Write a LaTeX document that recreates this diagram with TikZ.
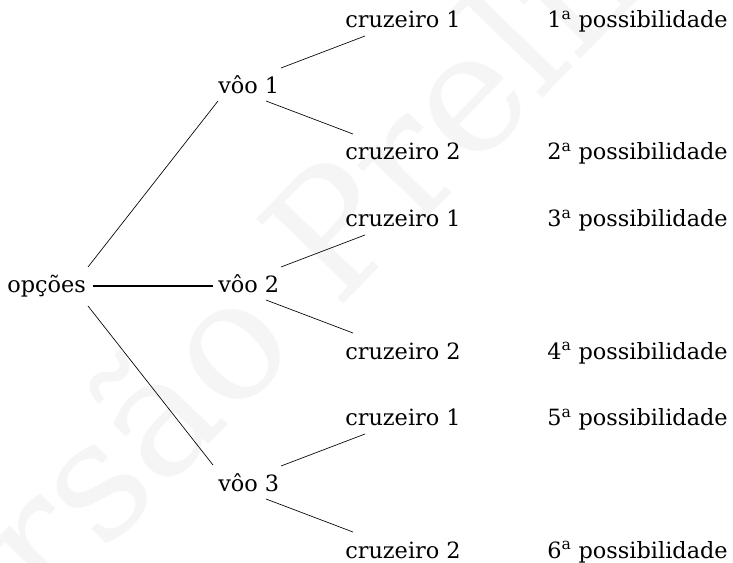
\documentclass[tikz,border=0pt]{standalone}
\usepackage{fontspec}
\setmainfont{DejaVu Serif}
\usetikzlibrary{calc}
\tikzset{
  lbl/.style={anchor=base west, inner sep=0pt, font=\fontsize{16.8}{20}\selectfont},
  br/.style={line width=0.5pt},
  trunk/.style={line width=0.9pt},
  wmark/.style={anchor=base west, inner sep=0pt, rotate=46, text=black!4, font=\fontsize{125}{150}\selectfont}
}
\begin{document}
\begin{tikzpicture}[x=0.75pt, y=-0.75pt]
\useasboundingbox (0,0) rectangle (733,563);
\begin{scope}
\clip (0,0) rectangle (733,563);
\node[wmark] (wm) at (-94,758) {Versão Preliminar};
\end{scope}
% nodes
\node[lbl] (opc) at (7,293) {opções};
\node[lbl] (v1) at (218,94) {vôo 1};
\node[lbl] (v2) at (218,293) {vôo 2};
\node[lbl] (v3) at (218,492) {vôo 3};
\node[lbl] (c11) at (345,28) {cruzeiro 1};
\node[lbl] (c12) at (345,160) {cruzeiro 2};
\node[lbl] (c21) at (345,227) {cruzeiro 1};
\node[lbl] (c22) at (345,359) {cruzeiro 2};
\node[lbl] (c31) at (345,426) {cruzeiro 1};
\node[lbl] (c32) at (345,558) {cruzeiro 2};
\node[lbl] (p1) at (547,28) {1\textsuperscript{a} possibilidade};
\node[lbl] (p2) at (547,160) {2\textsuperscript{a} possibilidade};
\node[lbl] (p3) at (547,227) {3\textsuperscript{a} possibilidade};
\node[lbl] (p4) at (547,359) {4\textsuperscript{a} possibilidade};
\node[lbl] (p5) at (547,426) {5\textsuperscript{a} possibilidade};
\node[lbl] (p6) at (547,558) {6\textsuperscript{a} possibilidade};
% connectors
\draw[br] ($(opc.base west)+(81,-26)$) -- ($(v1.base west)+(0,7)$);
\draw[trunk] ($(opc.base west)+(86,-7)$) -- ($(v2.base west)+(-5,-7)$);
\draw[br] ($(opc.base west)+(81,13)$) -- ($(v3.base west)+(-5,-27)$);
\draw[br] ($(v1.base west)+(63,-26)$) -- ($(c11.base west)+(20,8)$);
\draw[br] ($(v1.base west)+(48,7)$) -- ($(c12.base west)+(8,-26)$);
\draw[br] ($(v2.base west)+(63,-26)$) -- ($(c21.base west)+(20,8)$);
\draw[br] ($(v2.base west)+(48,7)$) -- ($(c22.base west)+(8,-26)$);
\draw[br] ($(v3.base west)+(63,-26)$) -- ($(c31.base west)+(20,8)$);
\draw[br] ($(v3.base west)+(48,7)$) -- ($(c32.base west)+(8,-26)$);
\end{tikzpicture}
\end{document}
